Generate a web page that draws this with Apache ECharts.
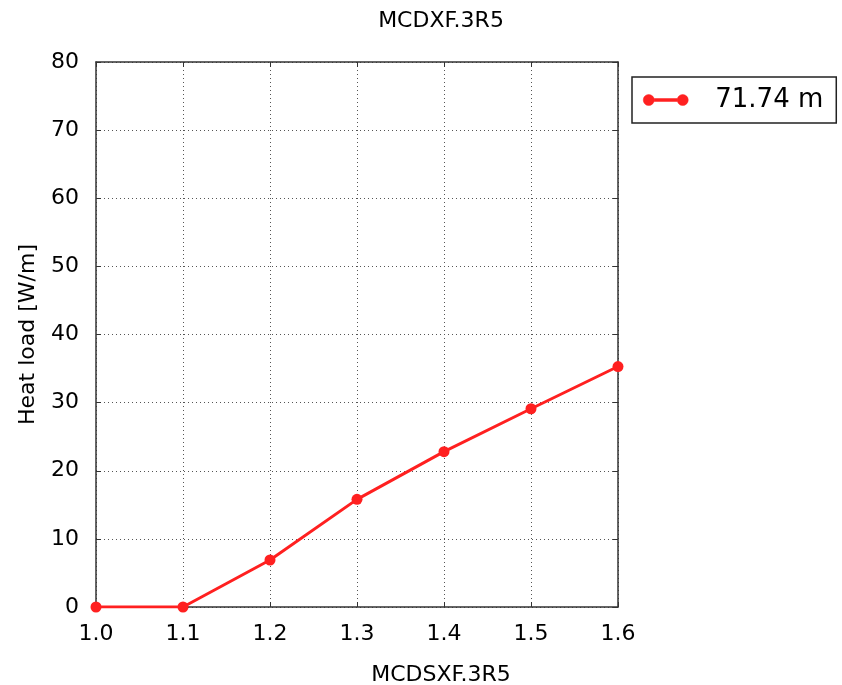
<!DOCTYPE html>
<html>
<head>
<meta charset="utf-8">
<script src="https://cdn.jsdelivr.net/npm/echarts@6/dist/echarts.min.js"></script>
<style>html,body{margin:0;padding:0;background:#fff}#c{width:842px;height:685px}</style>
</head>
<body>
<div id="c"></div>
<script>
const xValues = [1.0, 1.1, 1.2, 1.3, 1.4, 1.5, 1.6];
const heatLoad = [0, 0, 6.9, 15.8, 22.8, 29.1, 35.3];
const seriesName = '71.74 m';
const titleText = 'MCDXF.3R5';
const xLabel = 'MCDSXF.3R5';
const yLabel = 'Heat load [W/m]';

const font = 'DejaVu Sans';
const red = '#ff2020';
const chart = echarts.init(document.getElementById('c'), null, {renderer: 'canvas'});
const gridLine = {show: true, lineStyle: {color: '#555', type: [1, 3], width: 1}};
const tick = {show: true, inside: true, length: 5, lineStyle: {color: '#333'}};
const axLine = {show: true, onZero: false, lineStyle: {color: '#333', width: 1.5}};
chart.setOption({
  animation: false,
  backgroundColor: '#fff',
  textStyle: {fontFamily: font},
  title: [
    {text: titleText, left: 436, top: 5, textAlign: 'center',
     textStyle: {fontFamily: font, fontSize: 22, fontWeight: 'normal', color: '#000'}},
    {text: xLabel, left: 436, top: 659, textAlign: 'center',
     textStyle: {fontFamily: font, fontSize: 22, fontWeight: 'normal', color: '#000'}}
  ],
  legend: {
    left: 632, top: 77,
    padding: [10, 13, 10, 11],
    borderColor: '#222', borderWidth: 1.5,
    itemWidth: 45, itemHeight: 11, itemGap: 10,
    icon: 'path://M0,5.5 a5.5,5.5 0 1,1 11,0 a5.5,5.5 0 1,1 -11,0 Z M34,5.5 a5.5,5.5 0 1,1 11,0 a5.5,5.5 0 1,1 -11,0 Z M11,4 L34,4 L34,7 L11,7 Z',
    itemStyle: {color: red, borderColor: red, borderWidth: 0.5},
    textStyle: {fontFamily: font, fontSize: 26, color: '#000', padding: [0, 0, 0, 22]},
    data: [{name: seriesName, itemStyle: {color: red, borderColor: red, borderWidth: 0.5}}]
  },
  grid: {left: 96, right: 224, top: 62, bottom: 78, containLabel: false},
  xAxis: [
    {type: 'value', min: 1.0, max: 1.6, interval: 0.1, position: 'bottom',
     axisLine: axLine, axisTick: tick, splitLine: gridLine,
     axisLabel: {fontFamily: font, fontSize: 22, color: '#000', margin: 16,
                 formatter: v => v.toFixed(1)}},
    {type: 'value', min: 1.0, max: 1.6, interval: 0.1, position: 'top',
     axisLine: axLine, axisTick: tick, splitLine: {show: false}, axisLabel: {show: false}}
  ],
  yAxis: [
    {type: 'value', min: 0, max: 80, interval: 10, position: 'left',
     name: yLabel, nameLocation: 'middle', nameGap: 57,
     nameTextStyle: {fontFamily: font, fontSize: 22, color: '#000'},
     axisLine: axLine, axisTick: tick, splitLine: gridLine,
     axisLabel: {fontFamily: font, fontSize: 22, color: '#000', margin: 17}},
    {type: 'value', min: 0, max: 80, interval: 10, position: 'right',
     axisLine: axLine, axisTick: tick, splitLine: {show: false}, axisLabel: {show: false}}
  ],
  series: [{
    name: seriesName, type: 'line', xAxisIndex: 0, yAxisIndex: 0,
    data: xValues.map((x, i) => [x, heatLoad[i]]),
    symbol: 'circle', symbolSize: 11, clip: true,
    lineStyle: {color: red, width: 3},
    itemStyle: {color: red}
  }]
});
</script>
</body>
</html>
